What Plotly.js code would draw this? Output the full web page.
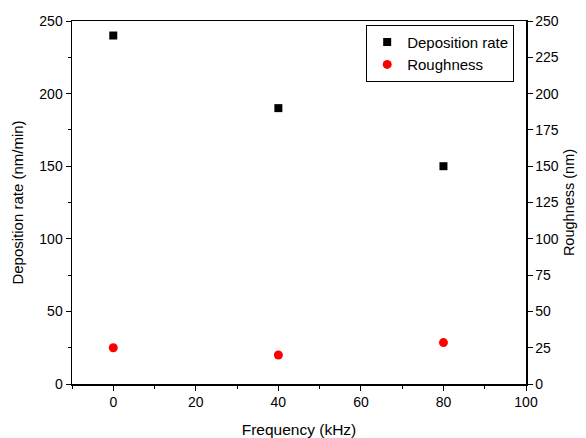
<!DOCTYPE html>
<html><head><meta charset="utf-8">
<script src="https://cdn.plot.ly/plotly-3.0.1.min.js"></script>
<style>html,body{margin:0;padding:0;background:#fff}#g{width:586px;height:438px}</style>
</head><body><div id="g"></div>
<script>
const frequency = [0, 40, 80];
const depositionRate = [240, 190, 150];
const roughness = [25, 20, 28.5];

const fam = 'Liberation Sans, Arial, sans-serif';
const font = {family: fam, size: 14, color: '#000'};
const traces = [
  {x: frequency, y: depositionRate, type: 'scatter', mode: 'markers', name: 'Deposition rate',
   marker: {symbol: 'square', size: 8, color: '#000'}, yaxis: 'y', cliponaxis: false},
  {x: frequency, y: roughness, type: 'scatter', mode: 'markers', name: 'Roughness',
   marker: {symbol: 'circle', size: 9, color: '#ff0000'}, yaxis: 'y2', cliponaxis: false}
];
const layout = {
  width: 586, height: 438,
  margin: {l: 71.5, r: 60, t: 20.5, b: 53.5},
  paper_bgcolor: '#fff', plot_bgcolor: '#fff',
  font: font,
  showlegend: true,
  legend: {x: 0.648, y: 0.99, xanchor: 'left', yanchor: 'top', bordercolor: '#000', borderwidth: 1,
           bgcolor: 'rgba(255,255,255,0)', font: {family: fam, size: 15}, tracegroupgap: 0,
           itemwidth: 30},
  xaxis: {range: [-10, 100], tickvals: [0, 20, 40, 60, 80, 100], showgrid: false, zeroline: false,
          showline: true, linecolor: '#000', linewidth: 1.5, mirror: true,
          ticks: 'outside', ticklen: 5, tickwidth: 1, tickcolor: '#000',
          minor: {dtick: 10, tick0: 0, ticks: 'outside', ticklen: 3, tickcolor: '#000'},
          title: {text: 'Frequency (kHz)', font: {family: fam, size: 15.5}, standoff: 16}},
  yaxis: {range: [0, 250], dtick: 50, showgrid: false, zeroline: false,
          showline: true, linecolor: '#000', linewidth: 1.5,
          ticks: 'outside', ticklen: 5, tickwidth: 1, tickcolor: '#000',
          minor: {dtick: 25, tick0: 0, ticks: 'outside', ticklen: 3, tickcolor: '#000'},
          title: {text: 'Deposition rate (nm/min)', font: {family: fam, size: 15}, standoff: 12}},
  yaxis2: {range: [0, 250], dtick: 25, overlaying: 'y', side: 'right', showgrid: false, zeroline: false,
           showline: true, linecolor: '#000', linewidth: 1.5,
           ticks: 'outside', ticklen: 5, tickwidth: 1, tickcolor: '#000',
           title: {text: 'Roughness (nm)', font: {family: fam, size: 14.5}, standoff: 6}}
};
Plotly.newPlot('g', traces, layout, {staticPlot: true, displayModeBar: false});
</script></body></html>
